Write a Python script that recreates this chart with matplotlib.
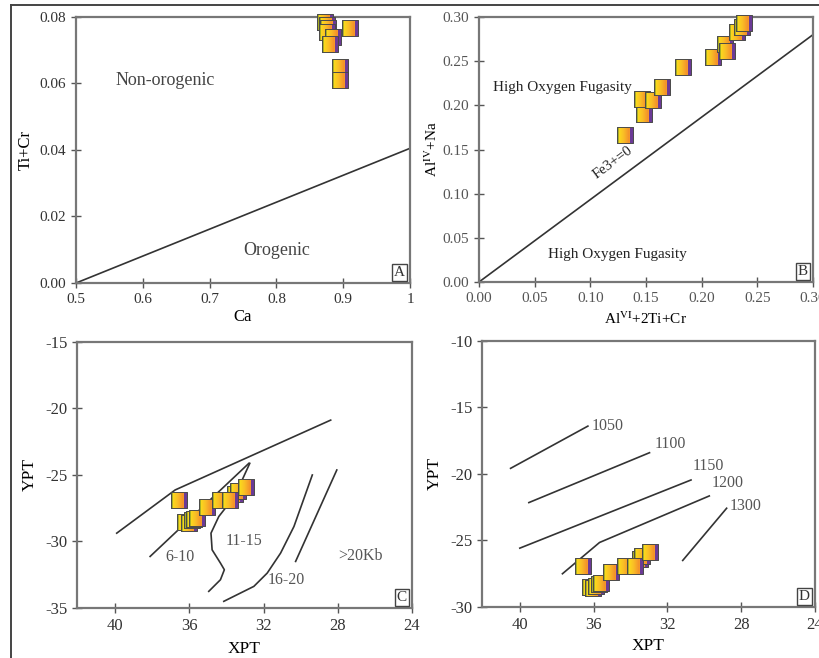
import numpy as np
import matplotlib
matplotlib.use('Agg')
import matplotlib.pyplot as plt
from matplotlib.colors import LinearSegmentedColormap
from matplotlib.lines import Line2D

plt.rcParams['font.family'] = ['Liberation Serif', 'DejaVu Serif']
plt.rcParams['mathtext.fontset'] = 'stix'
plt.rcParams['axes.unicode_minus'] = False

# ---- data ----
# A: Ca vs Ti+Cr
ca = [0.873, 0.876, 0.877, 0.876, 0.885, 0.880, 0.910, 0.895, 0.895]
ticr = [0.0785, 0.0776, 0.0767, 0.0755, 0.0740, 0.0720, 0.0767, 0.0650, 0.0610]
lineA_x = [0.5, 1.0]
lineA_y = [0.0, 0.0405]

# B: AlVI+2Ti+Cr vs AlIV+Na
alvi = [0.131, 0.148, 0.146, 0.156, 0.164, 0.183, 0.210, 0.221, 0.223, 0.232, 0.236, 0.238]
aliv = [0.166, 0.190, 0.207, 0.206, 0.221, 0.243, 0.255, 0.270, 0.261, 0.283, 0.289, 0.293]
lineB_x = [0.0, 0.30]
lineB_y = [0.0, 0.28]

# C, D: XPT vs YPT
xpt = [36.58, 36.22, 36.04, 35.86, 35.72, 35.59, 35.05, 34.32, 33.51, 33.39, 33.78, 32.92]
ypt = [-26.9, -28.5, -28.6, -28.4, -28.3, -28.2, -27.4, -26.9, -26.4, -26.2, -26.9, -25.9]

# pressure fields (C)
c_upper_x = [39.91, 36.76, 28.38]
c_upper_y = [-29.375, -26.125, -20.875]
c_610_x = [38.11, 32.79]
c_610_y = [-31.125, -24.125]
c_1115_x = [32.74, 33.15, 33.78, 34.41, 34.83, 34.77, 34.32, 34.11, 34.32, 34.95]
c_1115_y = [-24.125, -25.375, -27.0, -28.125, -29.375, -30.625, -31.625, -32.125, -32.875, -33.75]
c_1620_x = [34.14, 32.52, 31.80, 31.08, 30.36, 29.37]
c_1620_y = [-34.5, -33.375, -32.375, -30.875, -28.875, -25.0]
c_20_x = [30.27, 28.05]
c_20_y = [-31.5, -24.625]
c_labels = ['6-10', '11-15', '16-20', '>20Kb']
c_lab_x = [36.5, 33.06, 30.78, 26.76]
c_lab_y = [-31.2, -30.0, -32.9, -31.1]

# isotherms (D)
d_lines = {
    '1050': ([40.5, 36.31], [-19.575, -16.4]),
    '1100': ([39.51, 32.97], [-22.15, -18.4]),
    '1150': ([40.0, 30.72], [-25.575, -20.45]),
    '1200': ([37.69, 35.68, 29.73], [-27.5, -25.15, -21.65]),
    '1300': ([31.17, 28.79], [-26.5, -22.575]),
}
d_lab_x = [36.13, 32.7, 30.63, 29.59, 28.6]
d_lab_y = [-16.4, -17.75, -19.4, -20.7, -22.4]

# ---- marker helper: gradient square (green edge, yellow->orange, purple side) ----
cmap = LinearSegmentedColormap.from_list('g', ['#fbe01a', '#f9bf26', '#f4912a'])
PURPLE = '#6b3a96'
GREEN = '#56802e'


def rect(x0, x1):
    return [(x0, -1), (x1, -1), (x1, 1), (x0, 1), (x0, -1)]


def grad_squares(ax, xs, ys, ms=11.5):
    n = 12
    edges = np.linspace(-1, 0.5, n + 1)
    for k, (x, y) in enumerate(zip(xs, ys)):
        z = 3 + k * 0.01
        ax.plot(x, y, marker=rect(-1, 1), ms=ms, mfc=PURPLE, mec='none',
                ls='none', clip_on=False, zorder=z)
        # overlapping bands so no seams show between the colour steps
        for i in range(n):
            ax.plot(x, y, marker=rect(edges[i], 0.5), ms=ms,
                    mfc=cmap(i / (n - 1)), mec='none', ls='none',
                    clip_on=False, zorder=z + 0.001 * (i + 1) / n)
        ax.plot(x, y, marker=rect(-1, -0.82), ms=ms, mfc=GREEN, mec='none',
                ls='none', clip_on=False, zorder=z + 0.002)
        ax.plot(x, y, marker=rect(-1, 1), ms=ms, mfc='none', mec='#4a4a4a',
                mew=0.7, ls='none', clip_on=False, zorder=z + 0.003)


def style(ax, letter, tickcol='#333333', size=11):
    for s in ax.spines.values():
        s.set_color('#777777')
        s.set_linewidth(1.6)
    ax.tick_params(direction='inout', length=7, width=1, color='#555555',
                   labelsize=size, labelcolor=tickcol)
    ax.text(0.985, 0.015, letter, transform=ax.transAxes, ha='right', va='bottom',
            fontsize=11, color='#333333',
            bbox=dict(boxstyle='square,pad=0.15', fc='white', ec='#444444', lw=1))


fig = plt.figure(figsize=(8.2, 6.58), dpi=100)

# A
axA = fig.add_axes([0.0927, 0.5699, 0.4073, 0.4043])
axA.plot(lineA_x, lineA_y, color='#333333', lw=1.2)
grad_squares(axA, ca, ticr)
axA.set_xlim(0.5, 1.0)
axA.set_ylim(0, 0.08)
axA.set_xticks([0.5, 0.6, 0.7, 0.8, 0.9, 1.0])
axA.set_xticklabels(['0.5', '0.6', '0.7', '0.8', '0.9', '1'])
axA.set_yticks([0, 0.02, 0.04, 0.06, 0.08])
axA.set_yticklabels(['0.00', '0.02', '0.04', '0.06', '0.08'])
axA.set_xlabel('Ca', fontsize=12, labelpad=2)
axA.set_ylabel('Ti+Cr', fontsize=12, labelpad=4)
axA.text(0.633, 0.0608, 'Non-orogenic', fontsize=13, color='#444444', ha='center', va='center')
axA.text(0.801, 0.0099, 'Orogenic', fontsize=13, color='#444444', ha='center', va='center')
style(axA, 'A')

# B
axB = fig.add_axes([0.5841, 0.5714, 0.4073, 0.4027])
axB.plot(lineB_x, lineB_y, color='#333333', lw=1.2)
grad_squares(axB, alvi, aliv)
axB.set_xlim(0, 0.30)
axB.set_ylim(0, 0.30)
axB.set_xticks(np.arange(0, 0.31, 0.05))
axB.set_yticks(np.arange(0, 0.31, 0.05))
axB.xaxis.set_major_formatter(matplotlib.ticker.FormatStrFormatter('%.2f'))
axB.yaxis.set_major_formatter(matplotlib.ticker.FormatStrFormatter('%.2f'))
axB.set_xlabel(r'Al$^{\mathrm{VI}}$+2Ti+Cr', fontsize=11, labelpad=4)
axB.set_ylabel(r'Al$^{\mathrm{IV}}$+Na', fontsize=11, labelpad=2)
axB.text(0.0126, 0.22, 'High Oxygen Fugasity', fontsize=11, color='#222222', va='center')
axB.text(0.062, 0.031, 'High Oxygen Fugasity', fontsize=11, color='#222222', va='center')
axB.text(0.12, 0.135, 'Fe3+=0', fontsize=10.5, color='#222222', rotation=36.5,
         ha='center', va='center', rotation_mode='anchor')
style(axB, 'B', tickcol='#555555')

# C
axC = fig.add_axes([0.0939, 0.076, 0.4085, 0.4043])
for lx, ly in [(c_upper_x, c_upper_y), (c_610_x, c_610_y), (c_1115_x, c_1115_y),
               (c_1620_x, c_1620_y), (c_20_x, c_20_y)]:
    axC.plot(lx, ly, color='#333333', lw=1.2)
for t, x, y in zip(c_labels, c_lab_x, c_lab_y):
    axC.text(x, y, t, fontsize=11.5, color='#555555', ha='center', va='center')
grad_squares(axC, xpt, ypt)
axC.set_xlim(42.05, 24)
axC.set_ylim(-35, -15)
axC.set_xticks([40, 36, 32, 28, 24])
axC.set_yticks([-35, -30, -25, -20, -15])
axC.set_xlabel('XPT', fontsize=12.5, labelpad=5)
axC.set_ylabel('YPT', fontsize=12.5, labelpad=5)
style(axC, 'C', size=12)

# D
axD = fig.add_axes([0.5878, 0.0775, 0.4061, 0.4043])
for (lx, ly) in d_lines.values():
    axD.plot(lx, ly, color='#333333', lw=1.2)
for t, x, y in zip(d_lines.keys(), d_lab_x, d_lab_y):
    axD.text(x, y, t, fontsize=11.5, color='#555555', ha='left', va='center')
grad_squares(axD, xpt, ypt)
axD.set_xlim(42.05, 24)
axD.set_ylim(-30, -10)
axD.set_xticks([40, 36, 32, 28, 24])
axD.set_yticks([-30, -25, -20, -15, -10])
axD.set_xlabel('XPT', fontsize=12.5, labelpad=4)
axD.set_ylabel('YPT', fontsize=12.5, labelpad=5)
style(axD, 'D', size=12)

# outer frame (top and left edges)
fig.add_artist(Line2D([0.0134, 1.0], [0.9924, 0.9924], color='#444444', lw=1.4))
fig.add_artist(Line2D([0.0134, 0.0134], [0.0, 0.9924], color='#444444', lw=1.4))

fig.savefig('out.png', dpi=100)
